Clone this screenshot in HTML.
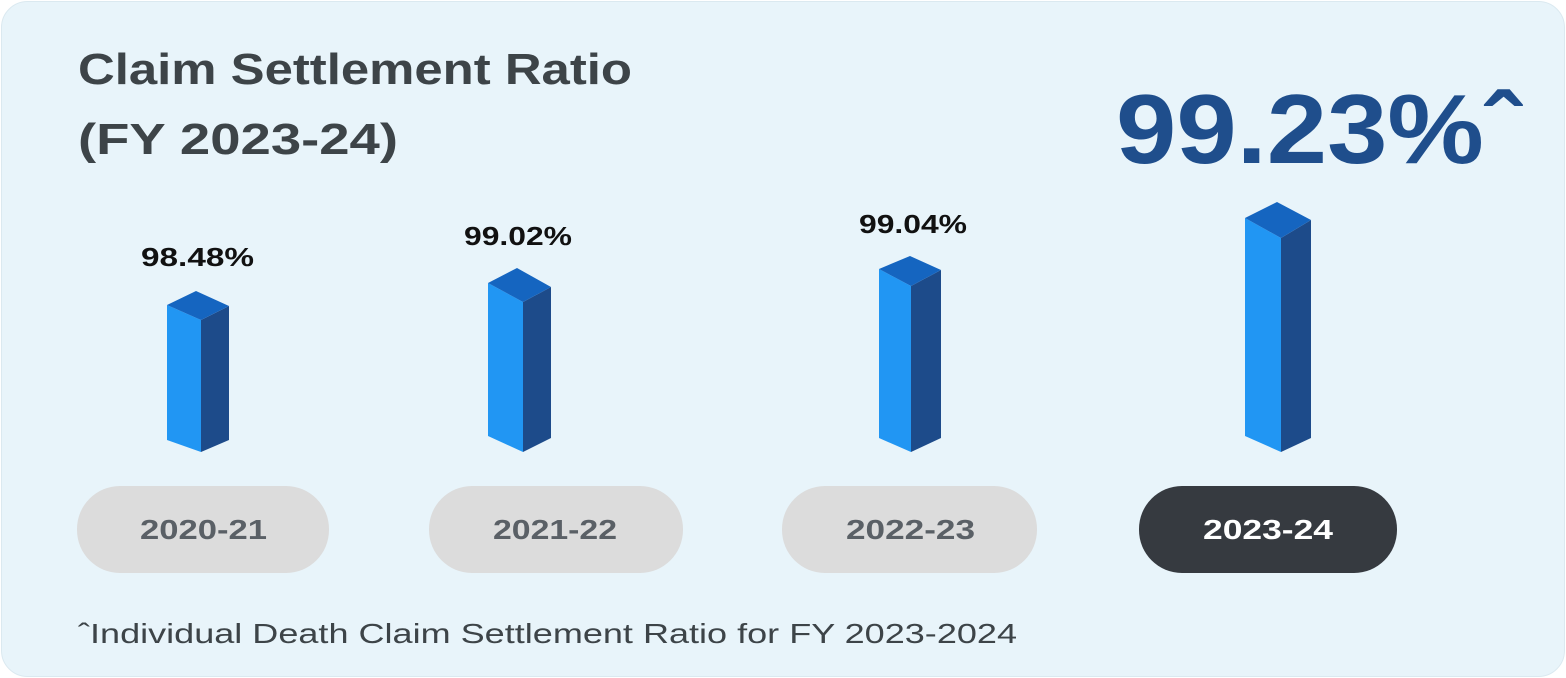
<!DOCTYPE html>
<html><head><style>
html,body{margin:0;padding:0;background:#fff;}
svg{display:block;}
text{font-family:"Liberation Sans","DejaVu Sans",sans-serif;}
</style></head><body>
<svg width="1566" height="678" viewBox="0 0 1566 678">
<rect x="1.5" y="1.5" width="1563" height="675" rx="26" fill="#e8f4fa" stroke="#dbe9f0" stroke-width="1"/>
<text x="78" y="84" font-size="44" font-weight="bold" fill="#3d4448" textLength="554" lengthAdjust="spacingAndGlyphs">Claim Settlement Ratio</text>
<text x="78" y="154" font-size="44" font-weight="bold" fill="#3d4448" textLength="320" lengthAdjust="spacingAndGlyphs">(FY 2023-24)</text>
<text x="1116" y="163" font-size="98" font-weight="bold" fill="#1f4e8c" textLength="404" lengthAdjust="spacingAndGlyphs">99.23%ˆ</text>

<!-- bar1 -->
<polygon points="167,305 201,320 201,452 167,440" fill="#2196f3"/>
<polygon points="201,320 229,306 229,440 201,452" fill="#1d4b8a"/>
<polygon points="167,305 196,291 229,306 201,320" fill="#1565c0"/>
<text x="141" y="266" font-size="26" font-weight="bold" fill="#111" textLength="113" lengthAdjust="spacingAndGlyphs">98.48%</text>
<!-- bar2 -->
<polygon points="488,283 523,302 523,452 488,436" fill="#2196f3"/>
<polygon points="523,302 551,287 551,438 523,452" fill="#1d4b8a"/>
<polygon points="488,283 517,268 551,287 523,302" fill="#1565c0"/>
<text x="464" y="245" font-size="26" font-weight="bold" fill="#111" textLength="108" lengthAdjust="spacingAndGlyphs">99.02%</text>
<!-- bar3 -->
<polygon points="879,269 911,286 911,452 879,438" fill="#2196f3"/>
<polygon points="911,286 941,270 941,438 911,452" fill="#1d4b8a"/>
<polygon points="879,269 910,256 941,270 911,286" fill="#1565c0"/>
<text x="859" y="233" font-size="26" font-weight="bold" fill="#111" textLength="108" lengthAdjust="spacingAndGlyphs">99.04%</text>
<!-- bar4 -->
<polygon points="1245,218 1281,238 1281,452 1245,436" fill="#2196f3"/>
<polygon points="1281,238 1311,220 1311,438 1281,452" fill="#1d4b8a"/>
<polygon points="1245,218 1277,202 1311,220 1281,238" fill="#1565c0"/>

<rect x="77" y="486" width="252" height="87" rx="43" fill="#dcdcdc"/>
<text x="140" y="539" font-size="28" font-weight="bold" fill="#5a6066" textLength="127" lengthAdjust="spacingAndGlyphs">2020-21</text>
<rect x="429" y="486" width="254" height="87" rx="43" fill="#dcdcdc"/>
<text x="493" y="539" font-size="28" font-weight="bold" fill="#5a6066" textLength="124" lengthAdjust="spacingAndGlyphs">2021-22</text>
<rect x="782" y="486" width="255" height="87" rx="43" fill="#dcdcdc"/>
<text x="846" y="539" font-size="28" font-weight="bold" fill="#5a6066" textLength="129" lengthAdjust="spacingAndGlyphs">2022-23</text>
<rect x="1139" y="486" width="258" height="87" rx="43" fill="#363a40"/>
<text x="1203" y="539" font-size="28" font-weight="bold" fill="#fff" textLength="130" lengthAdjust="spacingAndGlyphs">2023-24</text>

<text x="78" y="643" font-size="28" fill="#3d4448" textLength="939" lengthAdjust="spacingAndGlyphs">ˆIndividual Death Claim Settlement Ratio for FY 2023-2024</text>
</svg>
</body></html>
